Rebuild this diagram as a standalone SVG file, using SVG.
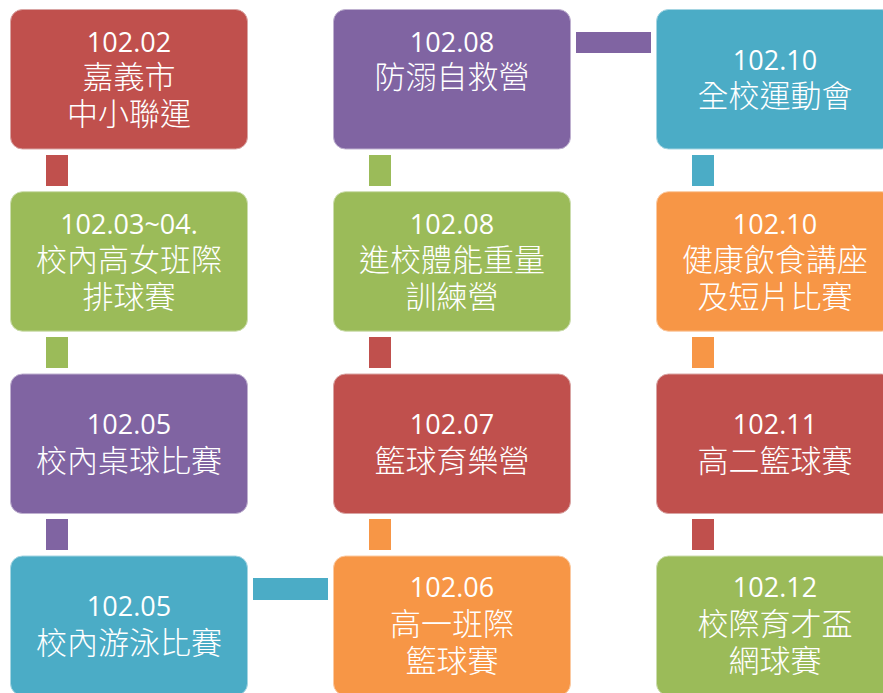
<svg xmlns="http://www.w3.org/2000/svg" width="883" height="693" viewBox="0 0 883 693">
<style>
.box{stroke-width:1;}
.red{fill:#C0504D;stroke:#D9A5A4;}
.green{fill:#9BBB59;stroke:#CCDDAE;}
.purple{fill:#8064A2;stroke:#BFB1D0;}
.teal{fill:#4BACC6;stroke:#A5D5E2;}
.orange{fill:#F79646;stroke:#FBCAA2;}
.cr{fill:#C0504D}.cg{fill:#9BBB59}.cp{fill:#8064A2}.ct{fill:#4BACC6}.co{fill:#F79646}
text{fill:#fff;text-anchor:middle;}
.n{font-family:"Open Sans","Noto Sans",sans-serif;font-size:27px;}
.c{font-family:"Noto Sans CJK TC","Noto Sans CJK SC",sans-serif;font-size:31px;font-weight:300;}
</style>
<g id="connectors">
<rect class="cr" x="46" y="155" width="22" height="31"/>
<rect class="cg" x="46" y="337" width="22" height="31"/>
<rect class="cp" x="46" y="519" width="22" height="31"/>
<rect class="ct" x="253" y="578" width="75" height="22"/>
<rect class="co" x="369" y="519" width="22" height="31"/>
<rect class="cr" x="369" y="337" width="22" height="31"/>
<rect class="cg" x="369" y="155" width="22" height="31"/>
<rect class="cp" x="576" y="32" width="75" height="21"/>
<rect class="ct" x="692" y="155" width="22" height="31"/>
<rect class="co" x="692" y="337" width="22" height="31"/>
<rect class="cr" x="692" y="519" width="22" height="31"/>
</g>
<g id="n1">
<rect class="box red" x="10.5" y="9.5" width="237" height="139.5" rx="12"/>
<text class="n" x="129" y="52">102.02</text>
<text class="c" x="129" y="88">嘉義市</text>
<text class="c" x="129" y="125">中小聯運</text>
</g>
<g id="n2">
<rect class="box green" x="10.5" y="191.7" width="237" height="139.5" rx="12"/>
<text class="n" x="129" y="234">102.03~04.</text>
<text class="c" x="129" y="271">校內高女班際</text>
<text class="c" x="129" y="308">排球賽</text>
</g>
<g id="n3">
<rect class="box purple" x="10.5" y="374" width="237" height="139.5" rx="12"/>
<text class="n" x="129" y="434">102.05</text>
<text class="c" x="129" y="472">校內桌球比賽</text>
</g>
<g id="n4">
<rect class="box teal" x="10.5" y="556" width="237" height="139.5" rx="12"/>
<text class="n" x="129" y="616">102.05</text>
<text class="c" x="129" y="654">校內游泳比賽</text>
</g>
<g id="n5">
<rect class="box orange" x="333.5" y="556" width="237" height="139.5" rx="12"/>
<text class="n" x="452" y="597">102.06</text>
<text class="c" x="452" y="635">高一班際</text>
<text class="c" x="452" y="672">籃球賽</text>
</g>
<g id="n6">
<rect class="box red" x="333.5" y="374" width="237" height="139.5" rx="12"/>
<text class="n" x="452" y="434">102.07</text>
<text class="c" x="452" y="472">籃球育樂營</text>
</g>
<g id="n7">
<rect class="box green" x="333.5" y="191.7" width="237" height="139.5" rx="12"/>
<text class="n" x="452" y="234">102.08</text>
<text class="c" x="452" y="271">進校體能重量</text>
<text class="c" x="452" y="308">訓練營</text>
</g>
<g id="n8">
<rect class="box purple" x="333.5" y="9.5" width="237" height="139.5" rx="12"/>
<text class="n" x="452" y="52">102.08</text>
<text class="c" x="452" y="88">防溺自救營</text>
</g>
<g id="n9">
<rect class="box teal" x="656.5" y="9.5" width="237" height="139.5" rx="12"/>
<text class="n" x="775" y="70">102.10</text>
<text class="c" x="775" y="107">全校運動會</text>
</g>
<g id="n10">
<rect class="box orange" x="656.5" y="191.7" width="237" height="139.5" rx="12"/>
<text class="n" x="775" y="234">102.10</text>
<text class="c" x="775" y="271">健康飲食講座</text>
<text class="c" x="775" y="308">及短片比賽</text>
</g>
<g id="n11">
<rect class="box red" x="656.5" y="374" width="237" height="139.5" rx="12"/>
<text class="n" x="775" y="434">102.11</text>
<text class="c" x="775" y="472">高二籃球賽</text>
</g>
<g id="n12">
<rect class="box green" x="656.5" y="556" width="237" height="139.5" rx="12"/>
<text class="n" x="775" y="597">102.12</text>
<text class="c" x="775" y="635">校際育才盃</text>
<text class="c" x="775" y="672">網球賽</text>
</g>
</svg>
